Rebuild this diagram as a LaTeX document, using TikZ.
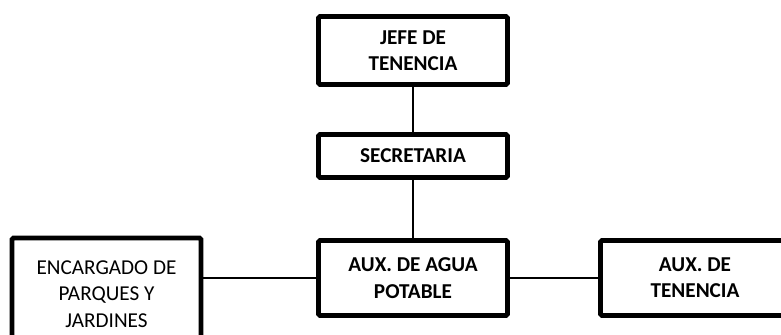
\documentclass[tikz,border=0pt]{standalone}
\usepackage{fontspec}
\setmainfont{Carlito}
\usepackage{tikz}

\tikzset{
	post/.style={draw, line width=2.4pt, rounded corners=0.8pt, align=center,
		minimum width=94.5pt, inner sep=2pt, font=\fontsize{10.6}{13.2}\selectfont\bfseries},
	link/.style={line width=0.9pt}
}

\begin{document}
\begin{tikzpicture}[x=0.5pt,y=-0.5pt]
		% The page
		\useasboundingbox (0,0) rectangle (781,335);
		\clip (0,0) rectangle (781,335);

		% The posts
		\node[post, minimum height=34pt] (jefe) at (413,50.5) {JEFE DE\\TENENCIA};
		\node[post, minimum height=21.5pt] (secre) at (413,156) {SECRETARIA};
		\node[post, minimum height=37.5pt] (agua) at (413,278) {AUX. DE AGUA\\POTABLE};
		\node[post, minimum height=37.5pt] (tenen) at (695,278) {AUX. DE\\TENENCIA};
		\node[post, minimum height=56pt, font=\fontsize{10.6}{13.2}\selectfont] (parques) at (106.5,294) {ENCARGADO DE\\PARQUES Y\\JARDINES};

		% The lines
		\draw[link] (jefe) -- (secre);
		\draw[link] (secre) -- (agua);
		\draw[link] (agua.west) -- (agua.west -| parques.east);
		\draw[link] (agua) -- (tenen);
	\end{tikzpicture}
\end{document}
